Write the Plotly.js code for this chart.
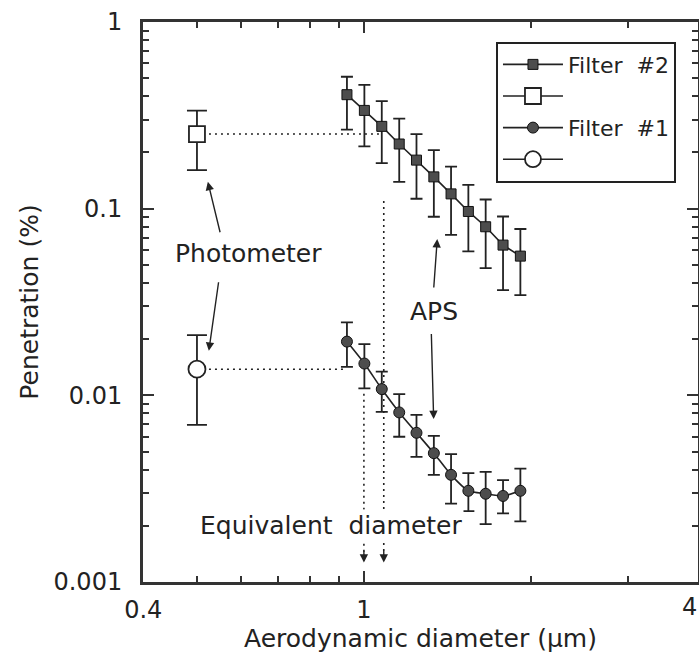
<!DOCTYPE html>
<html>
<head>
<meta charset="utf-8">
<script src="https://cdn.plot.ly/plotly-3.0.1.min.js"></script>
<style>
  html, body { margin: 0; padding: 0; background: #ffffff; }
  #chart { width: 699px; height: 668px; }
</style>
</head>
<body>
<div id="chart"></div>
<script>
// ---- data ----
const apsDiameter   = [0.932, 1.002, 1.077, 1.158, 1.244, 1.337, 1.436, 1.543, 1.658, 1.782, 1.915];
const filter2Pen    = [0.408, 0.336, 0.276, 0.222, 0.182, 0.148, 0.120, 0.0966, 0.080, 0.0638, 0.0557];
const filter2Upper  = [0.509, 0.460, 0.377, 0.304, 0.251, 0.206, 0.168, 0.134, 0.112, 0.0908, 0.0778];
const filter2Lower  = [0.265, 0.2155, 0.1755, 0.139, 0.113, 0.0905, 0.0724, 0.059, 0.048, 0.0366, 0.0344];
const filter1Pen    = [0.0194, 0.0148, 0.0108, 0.0081, 0.0063, 0.0049, 0.00375, 0.00308, 0.00297, 0.00289, 0.00308];
const filter1Upper  = [0.0246, 0.0188, 0.0134, 0.01015, 0.00786, 0.00607, 0.00484, 0.00383, 0.00389, 0.00351, 0.00405];
const filter1Lower  = [0.0142, 0.0109, 0.00816, 0.0060, 0.00468, 0.00375, 0.00263, 0.0024, 0.00204, 0.00233, 0.00211];

const photDiameter  = [0.5];
const photFilter2   = [0.251];
const photF2Upper   = [0.335];
const photF2Lower   = [0.161];
const photFilter1   = [0.0138];
const photF1Upper   = [0.0210];
const photF1Lower   = [0.00695];

// dotted guide lines
const guide2X = [0.5, 1.08],   guide2Y = [0.251, 0.251];
const guide1X = [0.5, 0.918],  guide1Y = [0.0138, 0.0138];
const vGuideAX = [1.086, 1.086], vGuideAY = [0.110, 0.00140];
const vGuideBX = [1.0, 1.0],     vGuideBY = [0.0102, 0.00140];

// tick labels (the last one, "4", sits at the right edge and is drawn right-aligned)
const xTickVals = [0.4, 1, 4];
const xTickText = ['0.4', '1', ''];
const xEdgeLabel = '4';
const xMinorVals = [0.5, 0.6, 0.7, 0.8, 0.9, 2, 3];
const yTickVals = [0.001, 0.01, 0.1, 1];
const yTickText = ['0.001', '0.01', '0.1', '1'];
const yMinorVals = [];
[0.001, 0.01, 0.1].forEach(d => { for (let k = 2; k <= 9; k++) yMinorVals.push(+(d * k).toPrecision(3)); });

// annotation arrows: [tailX, tailY, headX, headY]
const arrows = [
  [0.5512, 0.0734, 0.5231, 0.1393],   // Photometer -> square
  [0.5474, 0.0411, 0.5253, 0.01731],  // Photometer -> circle
  [1.336, 0.0371, 1.356, 0.0687],     // APS -> filter #2
  [1.323, 0.0217, 1.336, 0.00746],    // APS -> filter #1
  [1.0, 0.00150, 1.0, 0.00127],       // equivalent diameter
  [1.086, 0.00150, 1.086, 0.00127]
];
const labels = [
  {text: 'Photometer', x: 0.619, y: 0.0573},
  {text: 'APS', x: 1.336, y: 0.0280},
  {text: 'Equivalent&nbsp; diameter', x: 0.872, y: 0.00202}
];

const ink = '#222222';
const fillGray = '#4d4d4d';
const L = Math.log10;
const diff = (a, b) => a.map((v, i) => v - b[i]);

const guideStyle = {color: ink, width: 1.6, dash: '2px,4px'};
const traces = [
  {x: guide2X, y: guide2Y, mode: 'lines', line: guideStyle, showlegend: false, hoverinfo: 'skip'},
  {x: guide1X, y: guide1Y, mode: 'lines', line: guideStyle, showlegend: false, hoverinfo: 'skip'},
  {x: vGuideAX, y: vGuideAY, mode: 'lines', line: guideStyle, showlegend: false, hoverinfo: 'skip'},
  {x: vGuideBX, y: vGuideBY, mode: 'lines', line: guideStyle, showlegend: false, hoverinfo: 'skip'},
  {
    x: apsDiameter, y: filter2Pen, name: 'Filter&nbsp; #2', mode: 'lines+markers',
    line: {color: ink, width: 1.6},
    marker: {symbol: 'square', size: 10, color: fillGray, line: {color: '#111', width: 1}},
    error_y: {type: 'data', symmetric: false, array: diff(filter2Upper, filter2Pen),
              arrayminus: diff(filter2Pen, filter2Lower), color: ink, thickness: 1.8, width: 6}
  },
  {
    x: photDiameter, y: photFilter2, name: ' ', mode: 'lines+markers',
    line: {color: ink, width: 1.6},
    marker: {symbol: 'square', size: 16, color: '#ffffff', line: {color: ink, width: 1.8}},
    error_y: {type: 'data', symmetric: false, array: diff(photF2Upper, photFilter2),
              arrayminus: diff(photFilter2, photF2Lower), color: ink, thickness: 1.8, width: 10}
  },
  {
    x: apsDiameter, y: filter1Pen, name: 'Filter&nbsp; #1', mode: 'lines+markers',
    line: {color: ink, width: 1.6, shape: 'spline', smoothing: 0.6},
    marker: {symbol: 'circle', size: 11, color: fillGray, line: {color: '#111', width: 1}},
    error_y: {type: 'data', symmetric: false, array: diff(filter1Upper, filter1Pen),
              arrayminus: diff(filter1Pen, filter1Lower), color: ink, thickness: 1.8, width: 6}
  },
  {
    x: photDiameter, y: photFilter1, name: ' ', mode: 'lines+markers',
    line: {color: ink, width: 1.6},
    marker: {symbol: 'circle', size: 17, color: '#ffffff', line: {color: ink, width: 1.8}},
    error_y: {type: 'data', symmetric: false, array: diff(photF1Upper, photFilter1),
              arrayminus: diff(photFilter1, photF1Lower), color: ink, thickness: 1.8, width: 10}
  }
];

const annotations = [];
arrows.forEach(a => annotations.push({
  x: L(a[2]), y: L(a[3]), ax: L(a[0]), ay: L(a[1]), xref: 'x', yref: 'y', axref: 'x', ayref: 'y',
  text: '', showarrow: true, arrowhead: 2, arrowsize: 1.2, arrowwidth: 1.4, arrowcolor: ink
}));
labels.forEach(t => annotations.push({
  x: L(t.x), y: L(t.y), xref: 'x', yref: 'y', text: t.text, showarrow: false,
  font: {family: 'DejaVu Sans, sans-serif', size: 25, color: ink},
  bgcolor: t.text.indexOf('Equivalent') === 0 ? '#ffffff' : 'rgba(0,0,0,0)'
}));
annotations.push({
  x: 1, y: 0, xref: 'paper', yref: 'paper', xanchor: 'right', yanchor: 'middle',
  xshift: 1, yshift: -25, text: xEdgeLabel, showarrow: false,
  font: {family: 'DejaVu Sans, sans-serif', size: 24, color: ink}
});

const axisCommon = {
  type: 'log', showline: true, linecolor: '#333', linewidth: 3, mirror: 'ticks',
  ticks: 'inside', ticklen: 11, tickwidth: 2, tickcolor: '#333',
  showgrid: false, zeroline: false, tickmode: 'array',
  tickfont: {family: 'DejaVu Sans, sans-serif', size: 24, color: ink}
};

const layout = {
  width: 699, height: 668,
  margin: {l: 143, r: 1, t: 22, b: 86},
  paper_bgcolor: '#ffffff', plot_bgcolor: '#ffffff',
  font: {family: 'DejaVu Sans, sans-serif', color: ink},
  showlegend: true,
  legend: {
    x: 0.636, y: 0.965, xanchor: 'left', yanchor: 'top',
    bordercolor: ink, borderwidth: 2, bgcolor: '#ffffff',
    font: {family: 'DejaVu Sans, sans-serif', size: 22, color: ink},
    itemwidth: 60, traceorder: 'normal'
  },
  xaxis: Object.assign({}, axisCommon, {
    range: [L(0.4) - 0.0004, L(4) + 0.0004], tickvals: xTickVals, ticktext: xTickText,
    ticklabelstandoff: 4,
    minor: {tickmode: 'array', tickvals: xMinorVals, ticks: 'inside', ticklen: 6, tickwidth: 2, tickcolor: '#333'},
    title: {text: 'Aerodynamic diameter (µm)', font: {family: 'DejaVu Sans, sans-serif', size: 25, color: ink}, standoff: 4}
  }),
  yaxis: Object.assign({}, axisCommon, {
    range: [-3, 0], tickvals: yTickVals, ticktext: yTickText,
    ticklabelstandoff: 13,
    minor: {tickmode: 'array', tickvals: yMinorVals, ticks: 'inside', ticklen: 6, tickwidth: 2, tickcolor: '#333'},
    title: {text: 'Penetration (%)', font: {family: 'DejaVu Sans, sans-serif', size: 25, color: ink}, standoff: 8}
  }),
  annotations: annotations
};

Plotly.newPlot('chart', traces, layout, {staticPlot: true, displayModeBar: false});
</script>
</body>
</html>
